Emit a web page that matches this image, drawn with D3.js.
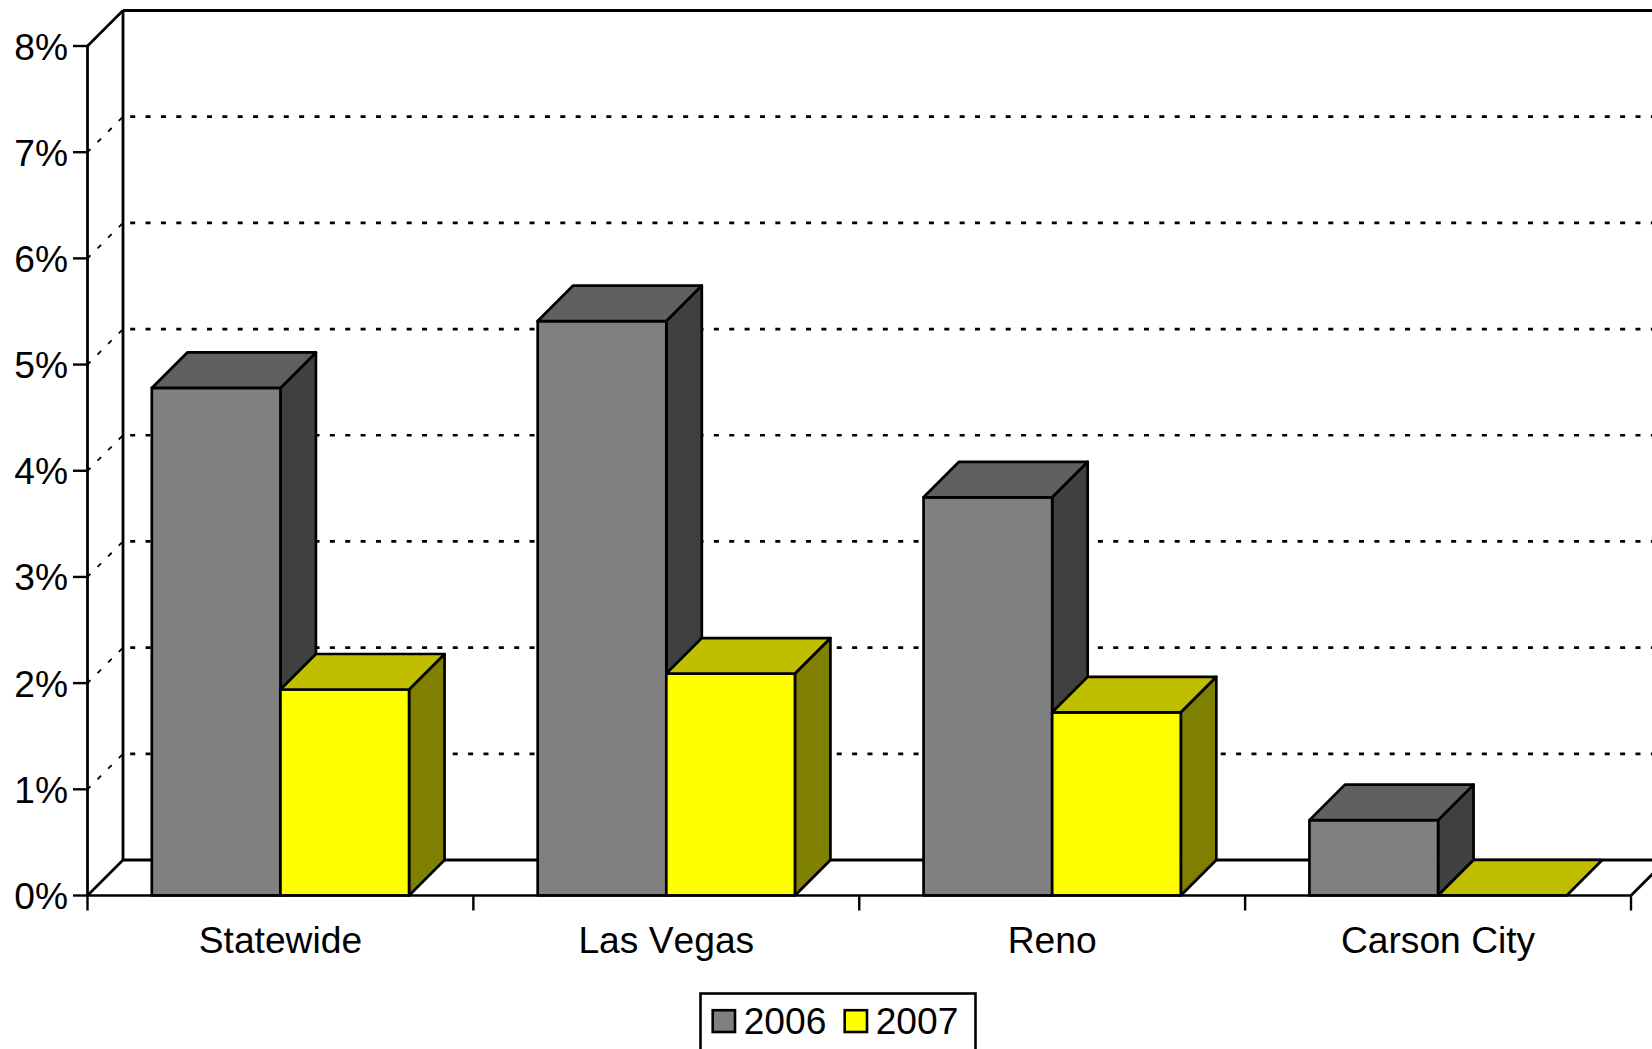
<!DOCTYPE html>
<html><head><meta charset="utf-8">
<script src="https://cdn.jsdelivr.net/npm/d3@7/dist/d3.min.js"></script>
<style>html,body{margin:0;padding:0;background:#fff;overflow:hidden}svg{display:block}text{font-family:"Liberation Sans",Arial,sans-serif;fill:#000;font-kerning:none}</style>
</head><body><svg id="c" width="1652" height="1049"></svg>
<script>
const categories = ["Statewide","Las Vegas","Reno","Carson City"];
const seriesNames = ["2006","2007"];
const values2006 = [4.78,5.41,3.75,0.71];
const values2007 = [1.94,2.09,1.725,0];
const yTicks = [0,1,2,3,4,5,6,7,8];

const svg = d3.select("#c");
const X0=87.5, X1=1631, Y0=895.5, Y8=46, D=35.5;
const FS=37.2;
const y = d3.scaleLinear().domain([0,8]).range([Y0,Y8]);
const x = d3.scaleBand().domain(categories).range([X0,X1]);
const inner = d3.scaleBand().domain(seriesNames).range([0,x.bandwidth()]).paddingOuter(0.5).paddingInner(0);
const fills = {"2006":{f:"#808080",t:"#606060",s:"#404040"},"2007":{f:"#ffff00",t:"#bfbf00",s:"#808000"}};
const SW=2.7;
const line=(x1,y1,x2,y2,w=SW,dash=null,off=0)=>svg.append("line").attr("x1",x1).attr("y1",y1).attr("x2",x2).attr("y2",y2)
  .attr("stroke","#000").attr("stroke-width",w).attr("stroke-dasharray",dash).attr("stroke-dashoffset",off);

// back wall grid
yTicks.forEach(t=>{
  const yy=y(t);
  if(t===0||t===8){
    line(X0+D,yy-D,1666,yy-D,2.8);
    if(t===8) line(X0,yy,X0+D,yy-D,2.7);
  } else {
    line(X0+D,yy-D,1666,yy-D,2.7,"5,10.36",8.16);
    line(X0+D,yy-D,X0,yy,1.8,"5,10",-1);
  }
});
line(X0+D,Y8-D,X0+D,Y0-D,2.8);
line(X0,Y8,X0,Y0,2.8);
line(X0,Y0,X0+D,Y0-D,2.7);
line(X1,Y0,X1+D,Y0-D,2.7);

// bars
const rows=[];
categories.forEach((c,i)=>{
  rows.push({c,s:"2006",v:values2006[i]});
  rows.push({c,s:"2007",v:values2007[i]});
});
const g=svg.append("g").attr("stroke","#000").attr("stroke-width",SW).attr("stroke-linejoin","round");
rows.forEach(r=>{
  const l=x(r.c)+inner(r.s), w=inner.bandwidth(), top=y(r.v), col=fills[r.s];
  if(r.v>0){
    g.append("polygon").attr("fill",col.s).attr("points",[[l+w,Y0],[l+w+D,Y0-D],[l+w+D,top-D],[l+w,top]].join(" "));
    g.append("rect").attr("fill",col.f).attr("x",l).attr("y",top).attr("width",w).attr("height",Y0-top);
  }
  g.append("polygon").attr("fill",col.t).attr("points",[[l,top],[l+D,top-D],[l+w+D,top-D],[l+w,top]].join(" "));
});

// front axis and ticks
line(X0,Y0,X1,Y0,2.4);
yTicks.forEach(t=>{
  line(X0-14.5,y(t),X0+1,y(t),2.4);
  svg.append("text").attr("x",68).attr("y",y(t)+13.5).attr("text-anchor","end").attr("font-size",FS).text(t+"%");
});
d3.range(0,5).forEach(i=>{
  const px=X0+i*x.bandwidth();
  line(px,Y0,px,Y0+15,2.4);
});
categories.forEach(c=>{
  svg.append("text").attr("x",x(c)+x.bandwidth()/2).attr("y",953).attr("text-anchor","middle").attr("font-size",FS).text(c);
});

// legend
svg.append("rect").attr("x",700.5).attr("y",993.5).attr("width",275).attr("height",70).attr("fill","#fff").attr("stroke","#000").attr("stroke-width",2.6);
const lx=[712.7,844.7];
seriesNames.forEach((s,i)=>{
  svg.append("rect").attr("x",lx[i]).attr("y",1010.2).attr("width",22.3).attr("height",21.8).attr("fill",fills[s].f).attr("stroke","#000").attr("stroke-width",2.6);
  svg.append("text").attr("x",lx[i]+31).attr("y",1034).attr("font-size",FS).text(s);
});
</script></body></html>
